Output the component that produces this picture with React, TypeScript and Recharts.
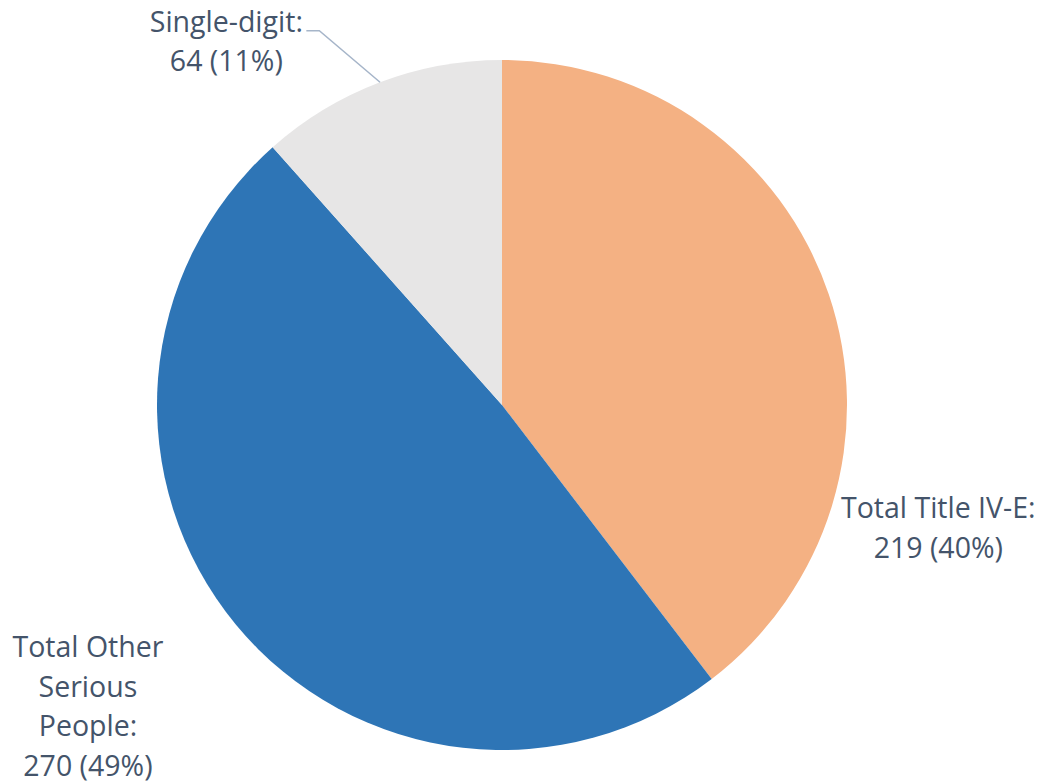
import { PieChart, Pie, Cell } from "recharts";

const names = ["Total Title IV-E", "Total Other Serious People", "Single-digit"];
const values = [219, 270, 64];
const labelLines = [
  ["Total Title IV-E:", "219 (40%)"],
  ["Total Other", "Serious", "People:", "270 (49%)"],
  ["Single-digit:", "64 (11%)"],
];
const colors = ["#F4B183", "#2E75B6", "#E7E6E6"];

// where each label sits, polar around the pie centre (deg, px)
const labelSpots = [
  { angle: -15.6, dist: 453 },
  { angle: 215.97, dist: 511.6 },
  { angle: 127.1, dist: 457 },
];

const data = names.map((name, i) => ({ name, value: values[i] }));

const RAD = Math.PI / 180;
const textColor = "#44546A";
const lineHeight = 39.5;

function renderLabel(props: any) {
  const { cx, cy, index } = props;
  const spot = labelSpots[index];
  const x = cx + spot.dist * Math.cos(spot.angle * RAD);
  const y = cy - spot.dist * Math.sin(spot.angle * RAD);
  const lines = labelLines[index];
  const top = y - ((lines.length - 1) * lineHeight) / 2;
  return (
    <text
      key={`lbl-${index}`}
      x={x}
      y={top}
      fill={textColor}
      textAnchor="middle"
      dominantBaseline="central"
      fontSize={28.5}
      fontFamily="'Open Sans', sans-serif"
    >
      {lines.map((t, j) => (
        <tspan key={j} x={x} y={top + j * lineHeight}>
          {t}
        </tspan>
      ))}
    </text>
  );
}

function renderLine(props: any) {
  const { cx, cy, outerRadius, index } = props;
  if (index !== 2) return <g key={`ll-${index}`} />;
  const a = 110.7 * RAD;
  const ex = cx + outerRadius * Math.cos(a);
  const ey = cy - outerRadius * Math.sin(a);
  const spot = labelSpots[index];
  const lx = cx + spot.dist * Math.cos(spot.angle * RAD);
  const ly = cy - spot.dist * Math.sin(spot.angle * RAD) - lineHeight / 2 + 10;
  const bx = lx + 80;
  const kx = bx + 13;
  return (
    <path
      key={`ll-${index}`}
      d={`M${ex},${ey} L${kx},${ly} L${bx},${ly}`}
      stroke="#A6B5C9"
      strokeWidth={1.5}
      fill="none"
    />
  );
}

export default function App() {
  return (
    <div style={{ position: "absolute", left: 0, top: 0, width: 1042, height: 781, background: "#fff" }}>
      <PieChart width={1042} height={781} margin={{ top: 0, right: 0, bottom: 0, left: 0 }}>
        <Pie
          data={data}
          dataKey="value"
          nameKey="name"
          cx={502}
          cy={405}
          outerRadius={345}
          startAngle={90}
          endAngle={-270}
          stroke="none"
          label={renderLabel}
          labelLine={renderLine}
          isAnimationActive={false}
        >
          {data.map((d, i) => (
            <Cell key={d.name} fill={colors[i]} />
          ))}
        </Pie>
      </PieChart>
    </div>
  );
}
